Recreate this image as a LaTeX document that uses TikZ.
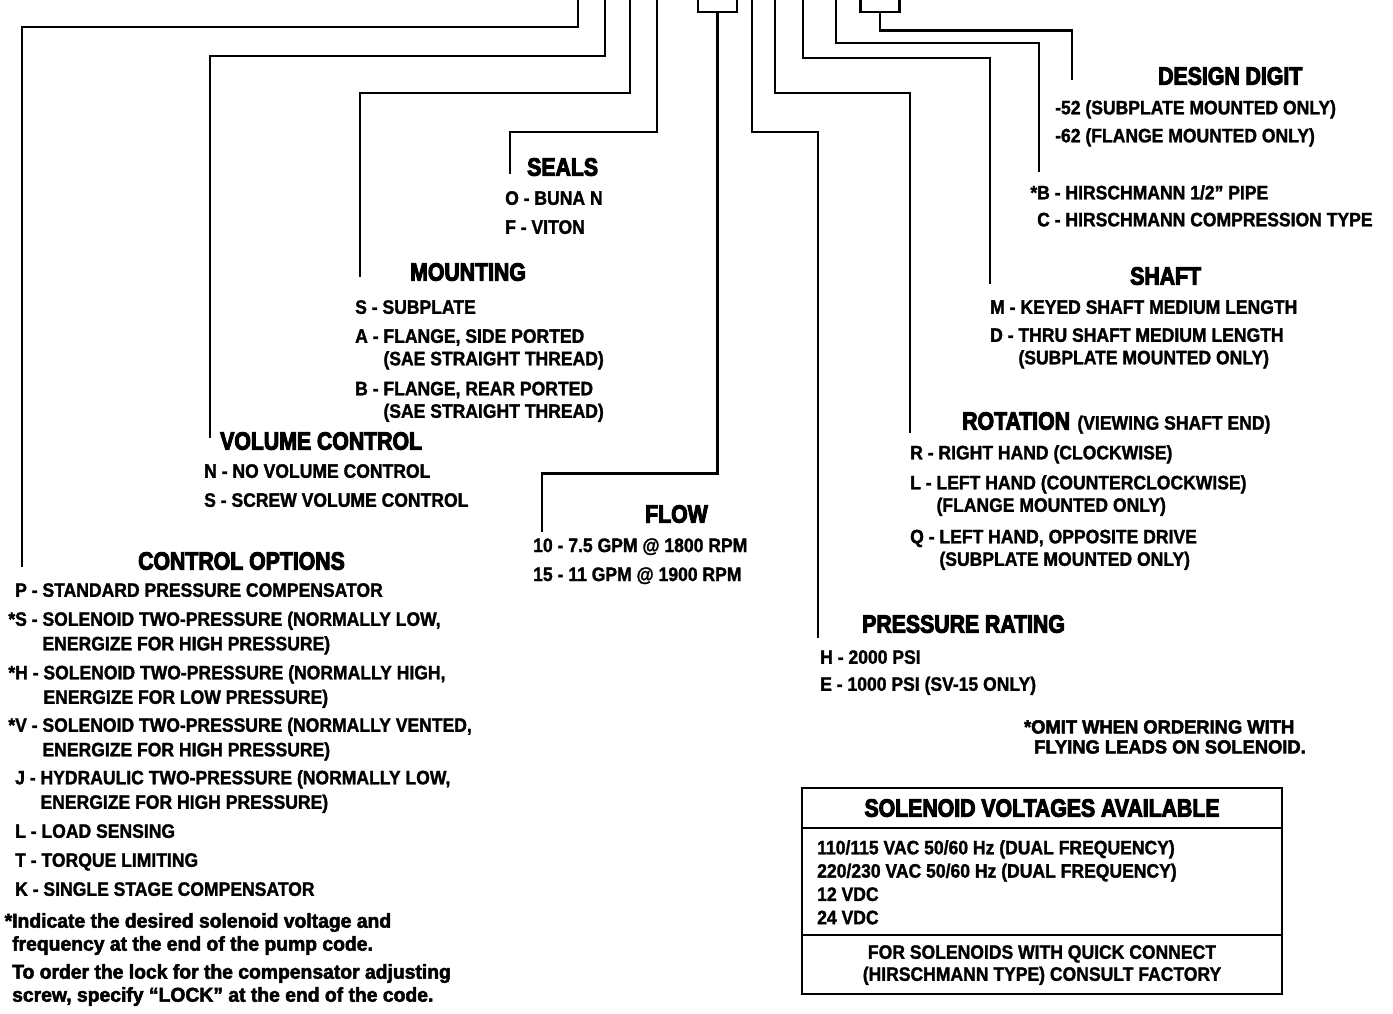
\documentclass[tikz,border=0pt]{standalone}
\usepackage{fontspec}
\setmainfont{Liberation Sans}
\newfontfamily\condfont{Liberation Sans}[FakeStretch=0.9,BoldFeatures={FakeBold=1.5}]
\newfontfamily\headfont{Liberation Sans}[FakeStretch=0.85,BoldFeatures={FakeBold=4}]
\newfontfamily\notefont{Liberation Sans}[FakeStretch=0.966,BoldFeatures={FakeBold=2.5}]
\tikzset{lead/.style={line width=2.8pt},digitbox/.style={draw,line width=2.4pt,minimum width=39pt,minimum height=32pt,inner sep=0pt},boxline/.style={line width=2pt},hd/.style={font={\headfont\bfseries\fontsize{25}{28}\selectfont},inner sep=0pt,anchor=north west},body/.style={font={\condfont\bfseries\fontsize{19.5}{22.5}\selectfont},inner sep=0pt,anchor=north west,align=left},note/.style={font={\notefont\bfseries\fontsize{20}{23}\selectfont},inner sep=0pt,anchor=north west,align=left}}

\begin{document}
\begin{tikzpicture}[x=1pt,y=-1pt]
\useasboundingbox (0,0) rectangle (1393,1014);
% digit boxes at the top edge
\node[digitbox] (flowbox) at (717.5,-4) {};
\node[digitbox] (designbox) at (880,-4) {};
% where the leads come in
\coordinate (ctlTop) at (578,0);
\coordinate (volTop) at (605,0);
\coordinate (mntTop) at (630,0);
\coordinate (sealTop) at (657,0);
\coordinate (presTop) at (752,0);
\coordinate (rotTop) at (775,0);
\coordinate (shaftTop) at (803,0);
\coordinate (connTop) at (836,0);
% where the leads stop
\coordinate (ctlEnd) at (22,567);
\coordinate (volEnd) at (210,438);
\coordinate (mntEnd) at (360,277);
\coordinate (sealEnd) at (510,174);
\coordinate (flowEnd) at (542,532);
\coordinate (presEnd) at (818,638);
\coordinate (rotEnd) at (910,433);
\coordinate (shaftEnd) at (990,284);
\coordinate (connEnd) at (1039,172);
\coordinate (designEnd) at (1072,80);
\draw[lead] (ctlTop) -- ++(0,27) -| (ctlEnd);
\draw[lead] (volTop) -- ++(0,56) -| (volEnd);
\draw[lead] (mntTop) -- ++(0,93) -| (mntEnd);
\draw[lead] (sealTop) -- ++(0,132) -| (sealEnd);
\draw[lead] (flowbox.south) -- ++(0,460) -| (flowEnd);
\draw[lead] (presTop) -- ++(0,132) -| (presEnd);
\draw[lead] (rotTop) -- ++(0,93) -| (rotEnd);
\draw[lead] (shaftTop) -- ++(0,58) -| (shaftEnd);
\draw[lead] (connTop) -- ++(0,43) -| (connEnd);
\draw[lead] (designbox.south) -- ++(0,17) -| (designEnd);

% left side
\node[hd] (sealhd) at (527,158) {SEALS};
\node[body] (seals) at (505,191) {O - BUNA N\\[6.5pt]F - VITON};
\node[hd] (mnthd) at (410,263) {MOUNTING};
\node[body] (mnt) at (355,300) {S - SUBPLATE\\[6.5pt]A - FLANGE, SIDE PORTED\\\hphantom{A - }(SAE STRAIGHT THREAD)\\[7.5pt]B - FLANGE, REAR PORTED\\\hphantom{B - }(SAE STRAIGHT THREAD)};
\node[hd] (volhd) at (220,432) {VOLUME CONTROL};
\node[body] (vol) at (204,464) {N - NO VOLUME CONTROL\\[6.5pt]S - SCREW VOLUME CONTROL};
\node[hd] (ctlhd) at (138,552) {CONTROL OPTIONS};
\node[body,font={\condfont\bfseries\fontsize{19.5}{24.5}\selectfont}] (ctl) at (15,583) {P - STANDARD PRESSURE COMPENSATOR\\[4.5pt]\llap{*}S - SOLENOID TWO-PRESSURE (NORMALLY LOW,\\\hphantom{S - }ENERGIZE FOR HIGH PRESSURE)\\[4.5pt]\llap{*}H - SOLENOID TWO-PRESSURE (NORMALLY HIGH,\\\hphantom{H - }ENERGIZE FOR LOW PRESSURE)\\[3.5pt]\llap{*}V - SOLENOID TWO-PRESSURE (NORMALLY VENTED,\\\hphantom{V - }ENERGIZE FOR HIGH PRESSURE)\\[3.5pt]J - HYDRAULIC TWO-PRESSURE (NORMALLY LOW,\\\hphantom{J - }ENERGIZE FOR HIGH PRESSURE)\\[4.5pt]L - LOAD SENSING\\[4.5pt]T - TORQUE LIMITING\\[4.5pt]K - SINGLE STAGE COMPENSATOR};
\node[note] (ctlnote) at (12,913) {\llap{*}Indicate the desired solenoid voltage and\\frequency at the end of the pump code.\\[5pt]To order the lock for the compensator adjusting\\screw, specify “LOCK” at the end of the code.};

% middle
\node[hd] (flowhd) at (645,505) {FLOW};
\node[body] (flow) at (533,538) {10 - 7.5 GPM @ 1800 RPM\\[6.5pt]15 - 11 GPM @ 1900 RPM};
\node[hd] (preshd) at (862,615) {PRESSURE RATING};
\node[body] (pres) at (820,650) {H - 2000 PSI\\[4.5pt]E - 1000 PSI (SV-15 ONLY)};

% right side
\node[hd] (designhd) at (1158,67) {DESIGN DIGIT};
\node[body] (design) at (1055,100) {-52 (SUBPLATE MOUNTED ONLY)\\[5.5pt]-62 (FLANGE MOUNTED ONLY)};
\node[body] (conn) at (1037,185) {\llap{*}B - HIRSCHMANN 1/2” PIPE\\[4.5pt]C - HIRSCHMANN COMPRESSION TYPE};
\node[hd] (shafthd) at (1130,267) {SHAFT};
\node[body] (shaft) at (990,300) {M - KEYED SHAFT MEDIUM LENGTH\\[5.5pt]D - THRU SHAFT MEDIUM LENGTH\\\hphantom{D - }(SUBPLATE MOUNTED ONLY)};
\node[hd] (rothd) at (962,412) {ROTATION};
\node[body,anchor=base west] (rotnote) at ([xshift=7pt]rothd.base east) {(VIEWING SHAFT END)};
\node[body] (rot) at (910,445) {R - RIGHT HAND (CLOCKWISE)\\[7.5pt]L - LEFT HAND (COUNTERCLOCKWISE)\\\hphantom{L - }(FLANGE MOUNTED ONLY)\\[9pt]Q - LEFT HAND, OPPOSITE DRIVE\\\hphantom{Q - }(SUBPLATE MOUNTED ONLY)};
\node[note,font={\notefont\bfseries\fontsize{19}{20}\selectfont}] (omit) at (1031,720) {\llap{*}OMIT WHEN ORDERING WITH\\\hspace*{3pt}FLYING LEADS ON SOLENOID.};

% voltage table
\draw[boxline] (802,788) rectangle (1282,994);
\draw[boxline] (802,828) -- (1282,828);
\draw[boxline] (802,935) -- (1282,935);
\node[hd,anchor=north] (volthd) at (1042,799) {SOLENOID VOLTAGES AVAILABLE};
\node[body,font={\condfont\bfseries\fontsize{19.5}{23.3}\selectfont}] (volts) at (817,840) {110/115 VAC 50/60 Hz (DUAL FREQUENCY)\\220/230 VAC 50/60 Hz (DUAL FREQUENCY)\\12 VDC\\24 VDC};
\node[body,align=center,anchor=north,font={\condfont\bfseries\fontsize{19.5}{22}\selectfont}] (quick) at (1042,945) {FOR SOLENOIDS WITH QUICK CONNECT\\(HIRSCHMANN TYPE) CONSULT FACTORY};
\end{tikzpicture}
\end{document}
